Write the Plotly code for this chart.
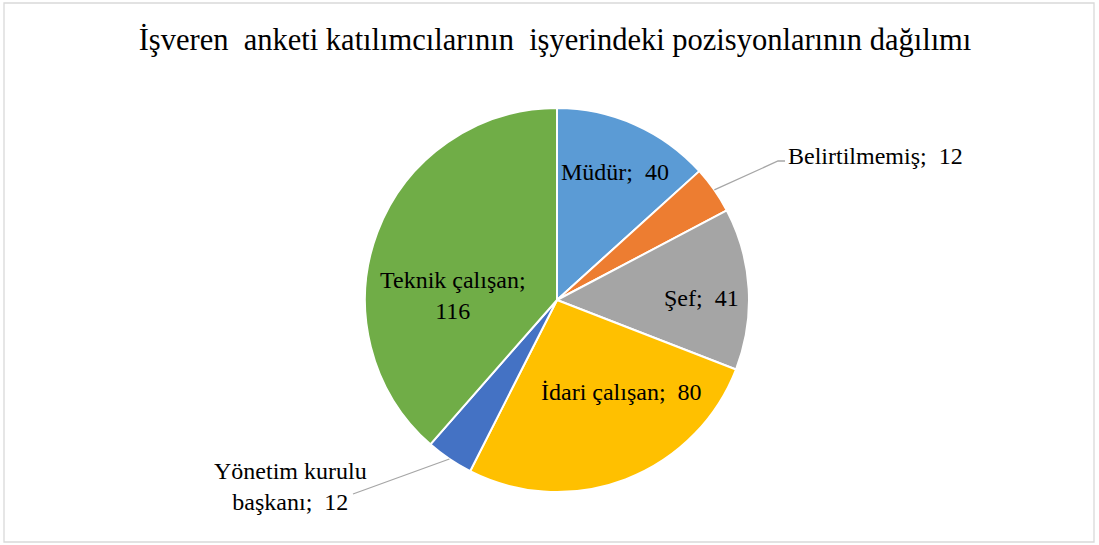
import math
import plotly.graph_objects as go

categories = ["Müdür", "Belirtilmemiş", "Şef", "İdari çalışan", "Yönetim kurulu başkanı", "Teknik çalışan"]
values = [40, 12, 41, 80, 12, 116]
colors = ["#5B9BD5", "#ED7D31", "#A5A5A5", "#FFC000", "#4472C4", "#70AD47"]
title_text = "İşveren  anketi katılımcılarının  işyerindeki pozisyonlarının dağılımı"

W, H = 1099, 545
CX, CY, R = 557, 300, 192
FONT = "Liberation Serif, Times New Roman, serif"
FS = 24

fig = go.Figure(go.Pie(
    labels=categories, values=values, sort=False, direction="clockwise", rotation=0,
    marker=dict(colors=colors, line=dict(color="white", width=2)),
    textinfo="none", hoverinfo="label+value", showlegend=False,
    domain=dict(x=[(CX - R) / W, (CX + R) / W], y=[(H - CY - R) / H, (H - CY + R) / H]),
))

def px2paper(x, y):
    return x / W, 1 - y / H

total = sum(values)
def mid_point(i):
    cum = sum(values[:i]) + values[i] / 2
    a = math.radians(cum / total * 360)
    return CX + R * math.sin(a), CY - R * math.cos(a)

label_texts = [
    f"{categories[0]};  {values[0]}",
    f"{categories[1]};  {values[1]}",
    f"{categories[2]};  {values[2]}",
    f"{categories[3]};  {values[3]}",
    f"Yönetim kurulu<br>başkanı;  {values[4]}",
    f"{categories[5]};<br>{values[5]}",
]
label_pos = [(615, 172, "center"), (786, 156, "left"), (701, 298, "center"),
             (621, 392, "center"), (290, 486, "center"), (453, 295, "center")]

annotations = []
for t, (x, y, anc) in zip(label_texts, label_pos):
    px, py = px2paper(x, y)
    annotations.append(dict(x=px, y=py, xref="paper", yref="paper", xanchor=anc, yanchor="middle",
                            text=t, showarrow=False, font=dict(family=FONT, size=FS, color="#000")))

shapes = []
sx, sy = mid_point(1)
p0 = px2paper(sx, sy); p1 = px2paper(778, 161); p2 = px2paper(785, 161)
shapes.append(dict(type="path", xref="paper", yref="paper",
                   path=f"M {p0[0]} {p0[1]} L {p1[0]} {p1[1]} L {p2[0]} {p2[1]}",
                   line=dict(color="#A6A6A6", width=1.3)))
sx, sy = mid_point(4)
p0 = px2paper(sx, sy); p1 = px2paper(353, 494)
shapes.append(dict(type="line", xref="paper", yref="paper", x0=p0[0], y0=p0[1], x1=p1[0], y1=p1[1],
                   line=dict(color="#A6A6A6", width=1.3)))
shapes.append(dict(type="rect", xref="paper", yref="paper", x0=4 / W, y0=1 - 542 / H, x1=1094 / W, y1=1 - 3 / H,
                   line=dict(color="#D9D9D9", width=1.3)))

fig.update_layout(
    width=W, height=H, margin=dict(l=0, r=0, t=0, b=0),
    paper_bgcolor="white", plot_bgcolor="white",
    title=dict(text=title_text, x=555 / W, xanchor="center", y=1 - 39 / H, yanchor="middle",
               yref="container", xref="container", font=dict(family=FONT, size=30.5, color="#000")),
    shapes=shapes, annotations=annotations,
)
fig.write_html("out.html", config={"displayModeBar": False},
               post_script="document.body.style.margin='0px';")
